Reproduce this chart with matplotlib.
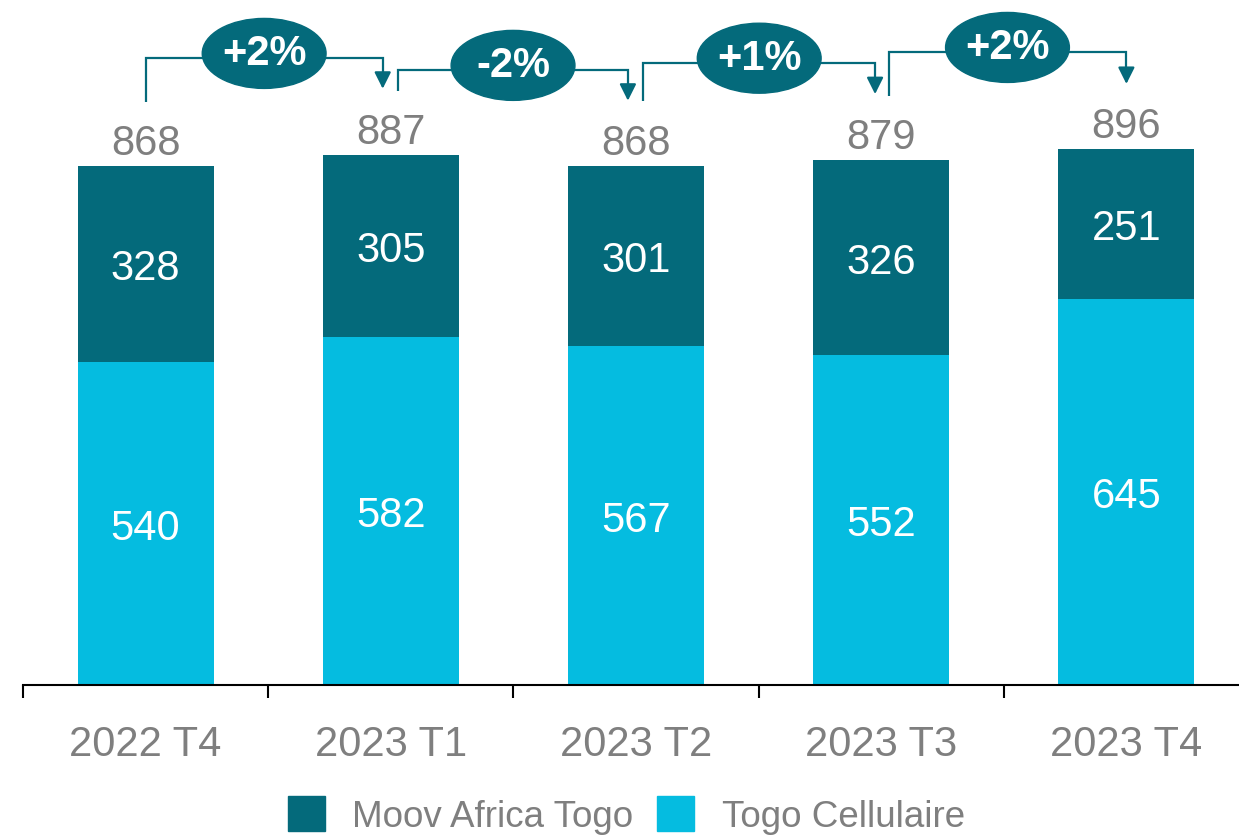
import numpy as np
import matplotlib.pyplot as plt
from matplotlib.patches import Ellipse, Patch

DARK = "#046a7b"
LIGHT = "#05bce0"
GREY = "#7f7f7f"

quarters = ["2022 T4", "2023 T1", "2023 T2", "2023 T3", "2023 T4"]
togo_cellulaire = [540, 582, 567, 552, 645]
moov_africa = [328, 305, 301, 326, 251]
totals = [868, 887, 868, 879, 896]

growth = ["+2%", "-2%", "+1%", "+2%"]
# bracket geometry: start/end offsets (category units), heights (data units)
start_off = [0.0, 0.03, 0.03, 0.03]
end_off = [-0.033, -0.033, -0.025, 0.0]
bracket_top = [1048, 1028, 1040, 1058]
start_low = [975, 993, 977, 985]
tip_low = [997, 977, 988, 1005]

plt.rcParams["font.family"] = ["Liberation Sans", "DejaVu Sans"]

fig = plt.figure(figsize=(12.39, 8.37), dpi=100)
ax = fig.add_axes([23 / 1239, 151 / 837, 1226 / 1239, 686 / 837])

x = np.arange(len(quarters))
width = 0.555
ax.bar(x, togo_cellulaire, width, color=LIGHT)
ax.bar(x, moov_africa, width, bottom=togo_cellulaire, color=DARK)

for i in range(len(x)):
    ax.annotate(str(togo_cellulaire[i]), (x[i], togo_cellulaire[i] / 2),
                xytext=(0, -3), textcoords="offset points",
                ha="center", va="center", color="white", fontsize=30)
    ax.annotate(str(moov_africa[i]), (x[i], togo_cellulaire[i] + moov_africa[i] / 2),
                xytext=(0, -3), textcoords="offset points",
                ha="center", va="center", color="white", fontsize=30)
    ax.annotate(str(totals[i]), (x[i], totals[i]), xytext=(0, 2),
                textcoords="offset points", ha="center", va="bottom",
                color=GREY, fontsize=30)

# growth brackets
for i, g in enumerate(growth):
    xs = x[i] + start_off[i]
    xe = x[i + 1] + end_off[i]
    ax.plot([xs, xs, xe, xe], [start_low[i], bracket_top[i], bracket_top[i], tip_low[i] + 20],
            color=DARK, lw=1.6, solid_capstyle="butt", solid_joinstyle="miter",
            clip_on=False)
    ax.annotate("", xy=(xe, tip_low[i]), xytext=(xe, tip_low[i] + 26),
                arrowprops=dict(arrowstyle="-|>,head_length=1.0,head_width=0.5",
                                color=DARK, lw=1.6, shrinkA=0, shrinkB=0),
                annotation_clip=False)
    xm = (xs + xe) / 2
    ax.add_patch(Ellipse((xm, bracket_top[i] + 8), 0.505, 117, color=DARK,
                         clip_on=False, zorder=3))
    ax.text(xm, bracket_top[i] + 8, g, ha="center", va="center", color="white",
            fontsize=30, fontweight="bold", zorder=4)

ax.set_xlim(-0.5, 4.5)
ax.set_ylim(0, 1147)
for s in ["top", "right", "left"]:
    ax.spines[s].set_visible(False)
ax.spines["bottom"].set_linewidth(1.5)
ax.set_yticks([])
ax.set_xticks(x)
ax.set_xticklabels(quarters, fontsize=30, color=GREY)
ax.tick_params(axis="x", which="major", length=0, pad=28)
ax.set_xticks(np.arange(-0.5, 5.0, 1.0), minor=True)
ax.tick_params(axis="x", which="minor", length=9, width=1.5, direction="out")

handles = [Patch(color=DARK, label="Moov Africa Togo"),
           Patch(color=LIGHT, label="Togo Cellulaire")]
leg = fig.legend(handles=handles, loc="upper left", ncol=2,
                 bbox_to_anchor=(288 / 1239, 1 - 797 / 837), frameon=False,
                 fontsize=26.5, handlelength=1.0, handleheight=1.1,
                 handletextpad=0.75, columnspacing=0.65, borderpad=0,
                 borderaxespad=0)
for t in leg.get_texts():
    t.set_color(GREY)

fig.savefig("out.png", dpi=100)
